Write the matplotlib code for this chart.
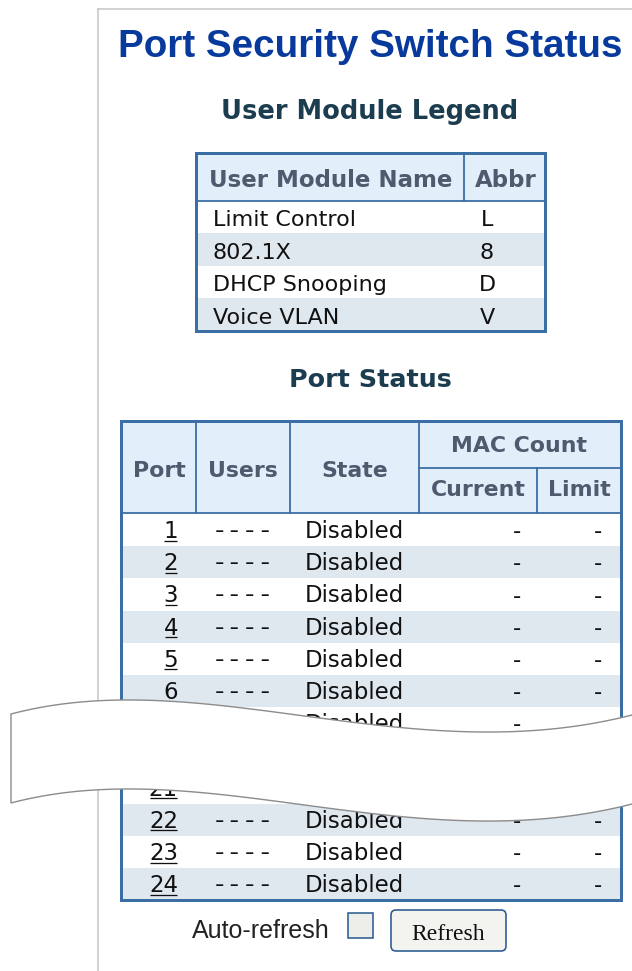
import numpy as np
import matplotlib
matplotlib.use("Agg")
import matplotlib.pyplot as plt
from matplotlib.patches import Rectangle, FancyBboxPatch, Polygon

# ---------------- data ----------------
page_title = "Port Security Switch Status"
legend_title = "User Module Legend"
legend_headers = ["User Module Name", "Abbr"]
module_names = ["Limit Control", "802.1X", "DHCP Snooping", "Voice VLAN"]
module_abbr = ["L", "8", "D", "V"]

status_title = "Port Status"
status_headers = ["Port", "Users", "State"]
mac_header = "MAC Count"
mac_subheaders = ["Current", "Limit"]
ports = [1, 2, 3, 4, 5, 6, 7, 20, 21, 22, 23, 24]
users = ["----", "----", "----", "----", "----", "----",
         "----", "----", "----", "----", "----", "----"]
states = ["Disabled", "Disabled", "Disabled", "Disabled", "Disabled", "Disabled",
          "Disabled", "Disabled", "Disabled", "Disabled", "Disabled", "Disabled"]
mac_current = ["-", "-", "-", "-", "-", "-", "-", "-", "-", "-", "-", "-"]
mac_limit = ["-", "-", "-", "-", "-", "-", "-", "-", "-", "-", "-", "-"]

auto_label = "Auto-refresh"
button_label = "Refresh"

# ---------------- style ----------------
W, H = 632, 971
PX = 0.72  # points per pixel at 100 dpi
BORDER = "#3a6ea5"
HEAD_BG = "#e3eefb"
SHADE = "#dfe7ef"
HEAD_TXT = "#4e5a6e"
SANS = ["DejaVu Sans"]
MONO = ["Liberation Mono", "DejaVu Sans Mono"]
ARIAL = ["Liberation Sans", "DejaVu Sans"]

fig = plt.figure(figsize=(W / 100, H / 100), dpi=100)
ax = fig.add_axes([0, 0, 1, 1])
ax.set_xlim(0, W)
ax.set_ylim(H, 0)
ax.axis("off")

# page frame
ax.plot([98, 98], [9, H], color="#c4c4c4", lw=1.5 * PX, zorder=1)
ax.plot([98, W], [9, 9], color="#c4c4c4", lw=1.5 * PX, zorder=1)

# title
ax.text(370, 57, page_title, ha="center", va="baseline", fontsize=27.8,
        fontweight="bold", family=ARIAL, color="#073a9c")
ax.text(370, 119, legend_title, ha="center", va="baseline", fontsize=18.5,
        fontweight="bold", family=SANS, color="#1c3d50")

# ---------------- legend table ----------------
lL, lR, lT, lHB = 196, 545, 153, 201
lrh = 32.5
lB = lHB + len(module_names) * lrh
ax.add_patch(Rectangle((lL, lT), lR - lL, lHB - lT, fc=HEAD_BG, ec="none", zorder=2))
for i, (nm, ab) in enumerate(zip(module_names, module_abbr)):
    top = lHB + i * lrh
    if i % 2 == 1:
        ax.add_patch(Rectangle((lL, top), lR - lL, lrh, fc=SHADE, ec="none", zorder=2))
    base = top + lrh / 2 + 9
    ax.text(213, base, nm, ha="left", va="baseline", fontsize=16, family=SANS,
            color="#111111", zorder=4)
    ax.text(487, base, ab, ha="center", va="baseline", fontsize=16, family=SANS,
            color="#111111", zorder=4)
ax.plot([lL, lR], [lHB, lHB], color=BORDER, lw=1.8 * PX, zorder=3)
ax.plot([464, 464], [lT, lHB], color=BORDER, lw=1.8 * PX, zorder=3)
ax.add_patch(Rectangle((lL, lT), lR - lL, lB - lT, fc="none", ec=BORDER,
                       lw=3 * PX, zorder=5))
ax.text(331, 187, legend_headers[0], ha="center", va="baseline", fontsize=16.5,
        fontweight="bold", family=SANS, color=HEAD_TXT, zorder=4)
ax.text(506, 187, legend_headers[1], ha="center", va="baseline", fontsize=16.5,
        fontweight="bold", family=SANS, color=HEAD_TXT, zorder=4)

# ---------------- port status table ----------------
ax.text(370, 387, status_title, ha="center", va="baseline", fontsize=18.3,
        fontweight="bold", family=SANS, color="#1c3d50")

pL, pR, pT, pMid, pHB = 121, 621, 421, 468, 513
y0, rh = 514, 32.2
pB = y0 + len(ports) * rh
ax.add_patch(Rectangle((pL, pT), pR - pL, pHB - pT, fc=HEAD_BG, ec="none", zorder=2))
for x in [196, 290, 419]:
    ax.plot([x, x], [pT, pHB], color=BORDER, lw=1.8 * PX, zorder=3)
ax.plot([537, 537], [pMid, pHB], color=BORDER, lw=1.8 * PX, zorder=3)
ax.plot([419, pR], [pMid, pMid], color=BORDER, lw=1.8 * PX, zorder=3)
ax.plot([pL, pR], [pHB, pHB], color=BORDER, lw=1.8 * PX, zorder=3)

hdr_kw = dict(va="baseline", ha="center", fontsize=15.8, fontweight="bold",
              family=SANS, color=HEAD_TXT, zorder=4)
for x, s in zip([159, 243, 355], status_headers):
    ax.text(x, 477, s, **hdr_kw)
ax.text(519, 452, mac_header, **hdr_kw)
ax.text(478, 496, mac_subheaders[0], **hdr_kw)
ax.text(579, 496, mac_subheaders[1], **hdr_kw)

port_texts = []
for s, (p, u, st, c, lm) in enumerate(zip(ports, users, states, mac_current, mac_limit)):
    top = y0 + s * rh
    if p % 2 == 0:
        ax.add_patch(Rectangle((pL, top), pR - pL, rh, fc=SHADE, ec="none", zorder=2))
    base = top + rh / 2 + 8
    kw = dict(va="baseline", fontsize=16.5, family=SANS, color="#111111", zorder=4)
    t = ax.text(178, base, str(p), ha="right", **kw)
    port_texts.append((t, base))
    ax.text(243, base, u, ha="center", va="baseline", fontsize=18.5, family=MONO,
            color="#111111", zorder=4)
    ax.text(305, base, st, ha="left", **kw)
    ax.text(517, base, c, ha="center", **kw)
    ax.text(598, base, lm, ha="center", **kw)

ax.add_patch(Rectangle((pL, pT), pR - pL, pB - pT, fc="none", ec=BORDER,
                       lw=3 * PX, zorder=5))

# underline the port links
fig.canvas.draw()
renderer = fig.canvas.get_renderer()
inv = ax.transData.inverted()
for t, base in port_texts:
    bb = t.get_window_extent(renderer)
    (x0d, _), (x1d, _) = inv.transform([[bb.x0, bb.y0], [bb.x1, bb.y1]])
    ax.plot([x0d + 1, x1d - 1], [base + 2.5, base + 2.5], color="#111111",
            lw=1.3 * PX, zorder=4, solid_capstyle="butt")

# ---------------- torn-page break ----------------
kx = np.array([11, 133, 312, 495, 632])
ky = np.array([714, 700, 717, 732, 715])
coef = np.polyfit(kx, ky, 4)
xs = np.linspace(11, 650, 300)
top_y = np.polyval(coef, xs)
bot_y = top_y + 89
poly = np.vstack([np.column_stack([xs, top_y]), np.column_stack([xs[::-1], bot_y[::-1]])])
ax.add_patch(Polygon(poly, closed=True, fc="white", ec="#8c8c8c", lw=1.4 * PX,
                     zorder=10, joinstyle="miter"))

# ---------------- bottom controls ----------------
ax.text(192, 938, auto_label, ha="left", va="baseline", fontsize=18,
        family=ARIAL, color="#222222")
ax.add_patch(Rectangle((348, 913), 25, 25, fc="#ededea", ec="#2f5f93",
                       lw=1.6 * PX, zorder=3))
ax.add_patch(FancyBboxPatch((391, 910), 115, 41,
                            boxstyle="round,pad=0,rounding_size=5",
                            fc="#f3f3ef", ec="#2a5a8f", lw=1.6 * PX, zorder=3))
ax.text(448, 940, button_label, ha="center", va="baseline", fontsize=17,
        family=["Liberation Serif", "DejaVu Serif"], color="#111111", zorder=4)

fig.savefig("out.png", dpi=100, facecolor="white")
